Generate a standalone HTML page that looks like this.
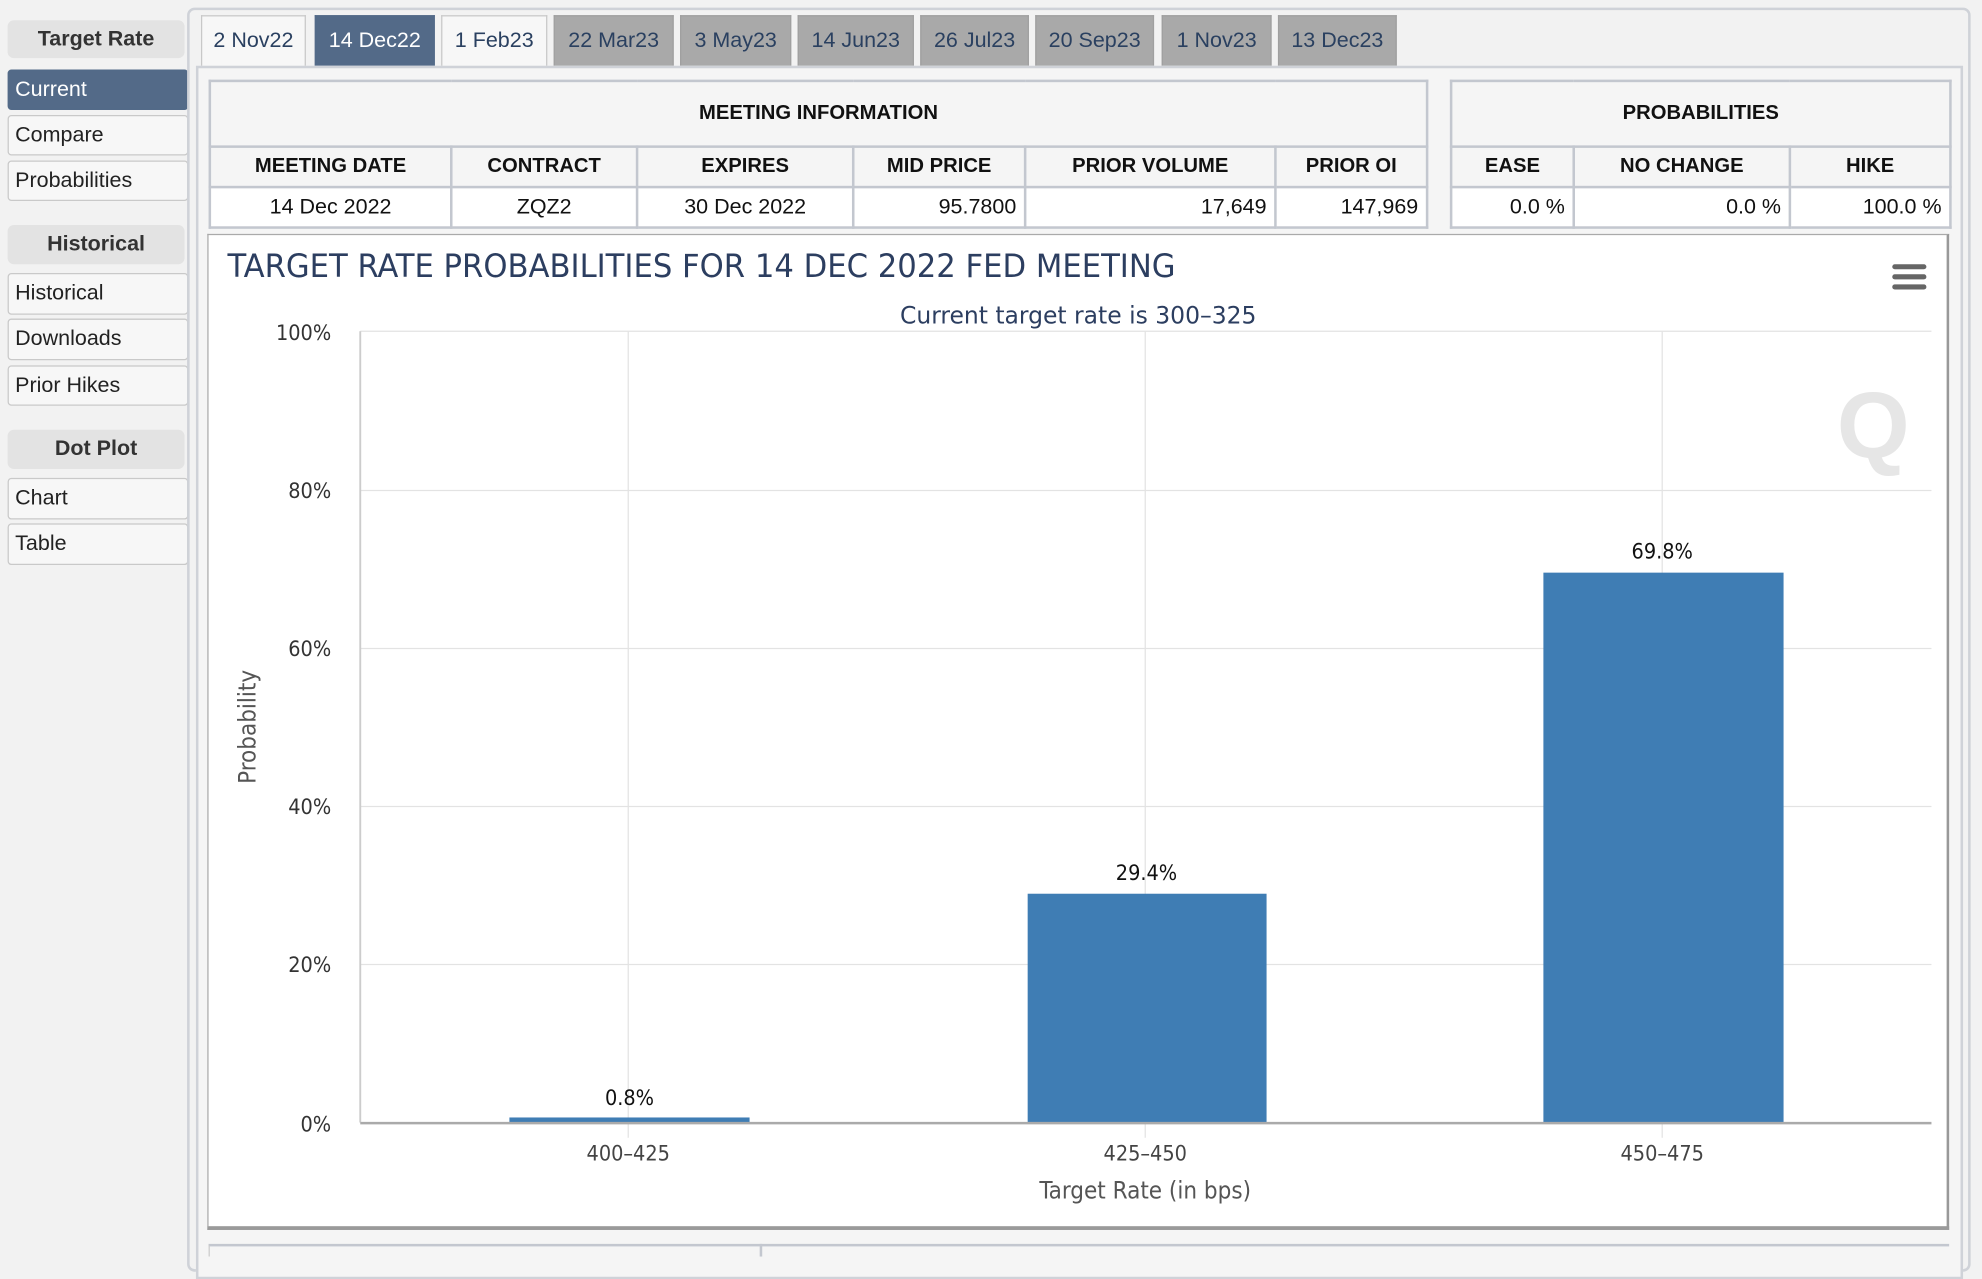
<!DOCTYPE html>
<html><head><meta charset="utf-8"><style>
html,body{margin:0;padding:0;width:1982px;height:1254px;overflow:hidden;background:#f2f2f2}
#w{position:absolute;left:0;top:0;width:1568px;height:992px;transform:scale(1.26404,1.26411);transform-origin:0 0;font-family:"Liberation Sans",sans-serif}
.a{position:absolute;box-sizing:border-box}
.hd{background:#e3e3e3;border-radius:5px;font-weight:bold;color:#333;font-size:17px;text-align:center;line-height:30px}
.it{background:#f7f7f7;border:1px solid #c9c9c9;border-radius:3px;font-size:17px;color:#222;padding-left:5px;line-height:30px}
.cur{background:#536a88;color:#fff;border-color:#536a88}
.tab{font-size:17px;text-align:center;line-height:38px;border:1px solid #c8c8c8;border-bottom:none}
.tw{background:#f7f7f7;color:#2a4060}
.tb{background:#536a88;color:#fff;border-color:#536a88}
.tg{background:#a9a9a9;color:#2a4060;border-color:#a0a0a0}
table{border-collapse:collapse;position:absolute;font-size:16px;color:#111}
td{border:2px solid #c3c7cf;text-align:center;padding:0 6px;box-sizing:border-box}
tr.h td{background:#f5f5f5;font-weight:bold}
tr.v td{background:#fff;font-size:17px}
</style></head><body><div id="w">
<div class="a hd" style="left:6px;top:16px;width:140px;height:30px">Target Rate</div>
<div class="a it cur" style="left:6px;top:55px;width:143px;height:32px">Current</div>
<div class="a it" style="left:6px;top:91px;width:143px;height:32px">Compare</div>
<div class="a it" style="left:6px;top:127px;width:143px;height:32px">Probabilities</div>
<div class="a hd" style="left:6px;top:178px;width:140px;height:31px">Historical</div>
<div class="a it" style="left:6px;top:216px;width:143px;height:33px">Historical</div>
<div class="a it" style="left:6px;top:252px;width:143px;height:33px">Downloads</div>
<div class="a it" style="left:6px;top:289px;width:143px;height:32px">Prior Hikes</div>
<div class="a hd" style="left:6px;top:340px;width:140px;height:31px">Dot Plot</div>
<div class="a it" style="left:6px;top:378px;width:143px;height:33px">Chart</div>
<div class="a it" style="left:6px;top:414px;width:143px;height:33px">Table</div>

<div class="a" style="left:148px;top:6px;width:1411px;height:1000px;border:2px solid #cfd2d8;border-radius:6px;background:#f2f2f2"></div>
<div class="a tab tw" style="left:159px;top:12px;width:83px;height:41px">2 Nov22</div>
<div class="a tab tb" style="left:249px;top:12px;width:95px;height:41px">14 Dec22</div>
<div class="a tab tw" style="left:349px;top:12px;width:84px;height:41px">1 Feb23</div>
<div class="a tab tg" style="left:438px;top:12px;width:95px;height:41px">22 Mar23</div>
<div class="a tab tg" style="left:538px;top:12px;width:88px;height:41px">3 May23</div>
<div class="a tab tg" style="left:631px;top:12px;width:92px;height:41px">14 Jun23</div>
<div class="a tab tg" style="left:728px;top:12px;width:86px;height:41px">26 Jul23</div>
<div class="a tab tg" style="left:819px;top:12px;width:94px;height:41px">20 Sep23</div>
<div class="a tab tg" style="left:919px;top:12px;width:87px;height:41px">1 Nov23</div>
<div class="a tab tg" style="left:1011px;top:12px;width:94px;height:41px">13 Dec23</div>
<div class="a" style="left:155px;top:52px;width:1398px;height:960px;border:2px solid #cfd2d8;background:#f5f5f5"></div>

<table style="left:165px;top:63px;width:965px;height:117px">
<tr class="h" style="height:52px"><td colspan="6">MEETING INFORMATION</td></tr>
<tr class="h" style="height:32px"><td style="width:191px">MEETING DATE</td><td style="width:147px">CONTRACT</td><td style="width:171px">EXPIRES</td><td style="width:136px">MID PRICE</td><td style="width:198px">PRIOR VOLUME</td><td>PRIOR OI</td></tr>
<tr class="v" style="height:32px"><td>14 Dec 2022</td><td>ZQZ2</td><td>30 Dec 2022</td><td style="text-align:right">95.7800</td><td style="text-align:right">17,649</td><td style="text-align:right">147,969</td></tr>
</table>
<table style="left:1147px;top:63px;width:397px;height:117px">
<tr class="h" style="height:52px"><td colspan="3">PROBABILITIES</td></tr>
<tr class="h" style="height:32px"><td style="width:97px">EASE</td><td style="width:171px">NO CHANGE</td><td>HIKE</td></tr>
<tr class="v" style="height:32px"><td style="text-align:right">0.0 %</td><td style="text-align:right">0.0 %</td><td style="text-align:right">100.0 %</td></tr>
</table>

<div class="a" style="left:164px;top:185px;width:1378px;height:788px;background:#fff;border:1px solid #aaa;border-right:2px solid #999;border-bottom:3px solid #9a9a9a"></div>
<div class="a" style="left:165px;top:984px;width:1377px;height:10px;border-top:2px solid #c3c7cf;border-left:1px solid #ccc"></div>
<div class="a" style="left:601px;top:984px;width:2px;height:10px;background:#c3c7cf"></div>

<svg class="a" style="left:0;top:0" width="1568" height="992" font-family="'DejaVu Sans Condensed','DejaVu Sans',sans-serif">
<text x="180" y="219" font-size="25" fill="#2c3e60" textLength="750" lengthAdjust="spacingAndGlyphs">TARGET RATE PROBABILITIES FOR 14 DEC 2022 FED MEETING</text>
<text x="853" y="256" font-size="19" fill="#2c3e60" text-anchor="middle" textLength="282" lengthAdjust="spacingAndGlyphs">Current target rate is 300–325</text>
<g fill="#666"><rect x="1497" y="209" width="27" height="4" rx="2"/><rect x="1497" y="217" width="27" height="4" rx="2"/><rect x="1497" y="225" width="27" height="4" rx="2"/></g>
<text x="1482" y="362" font-size="74" font-weight="bold" fill="#e6e6e6" text-anchor="middle" font-family="'Liberation Sans',sans-serif">Q</text>
<g stroke="#e3e3e3" stroke-width="1">
<line x1="285" y1="262" x2="1528" y2="262"/><line x1="285" y1="388" x2="1528" y2="388"/><line x1="285" y1="513" x2="1528" y2="513"/><line x1="285" y1="638" x2="1528" y2="638"/><line x1="285" y1="763" x2="1528" y2="763"/>
<line x1="497" y1="262" x2="497" y2="900"/><line x1="906" y1="262" x2="906" y2="900"/><line x1="1315" y1="262" x2="1315" y2="900"/>
</g>
<line x1="285" y1="262" x2="285" y2="888" stroke="#ccc" stroke-width="1.5"/>
<g font-size="17" fill="#333" text-anchor="end">
<text x="262" y="269">100%</text><text x="262" y="394">80%</text><text x="262" y="519">60%</text><text x="262" y="644">40%</text><text x="262" y="769">20%</text><text x="262" y="895">0%</text>
</g>
<g fill="#3f7db4">
<rect x="403" y="884" width="190" height="4"/><rect x="813" y="707" width="189" height="181"/><rect x="1221" y="453" width="190" height="435"/>
</g>
<line x1="285" y1="888.5" x2="1528" y2="888.5" stroke="#aaa" stroke-width="2"/>
<g font-size="17" fill="#111" text-anchor="middle">
<text x="498" y="874">0.8%</text><text x="907" y="696">29.4%</text><text x="1315" y="442">69.8%</text>
</g>
<g font-size="17" fill="#444" text-anchor="middle">
<text x="497" y="918">400–425</text><text x="906" y="918">425–450</text><text x="1315" y="918">450–475</text>
</g>
<text x="906" y="948" font-size="19" fill="#555" text-anchor="middle">Target Rate (in bps)</text>
<text transform="translate(202,575) rotate(-90)" font-size="19" fill="#555" text-anchor="middle">Probability</text>
</svg>
</div></body></html>
